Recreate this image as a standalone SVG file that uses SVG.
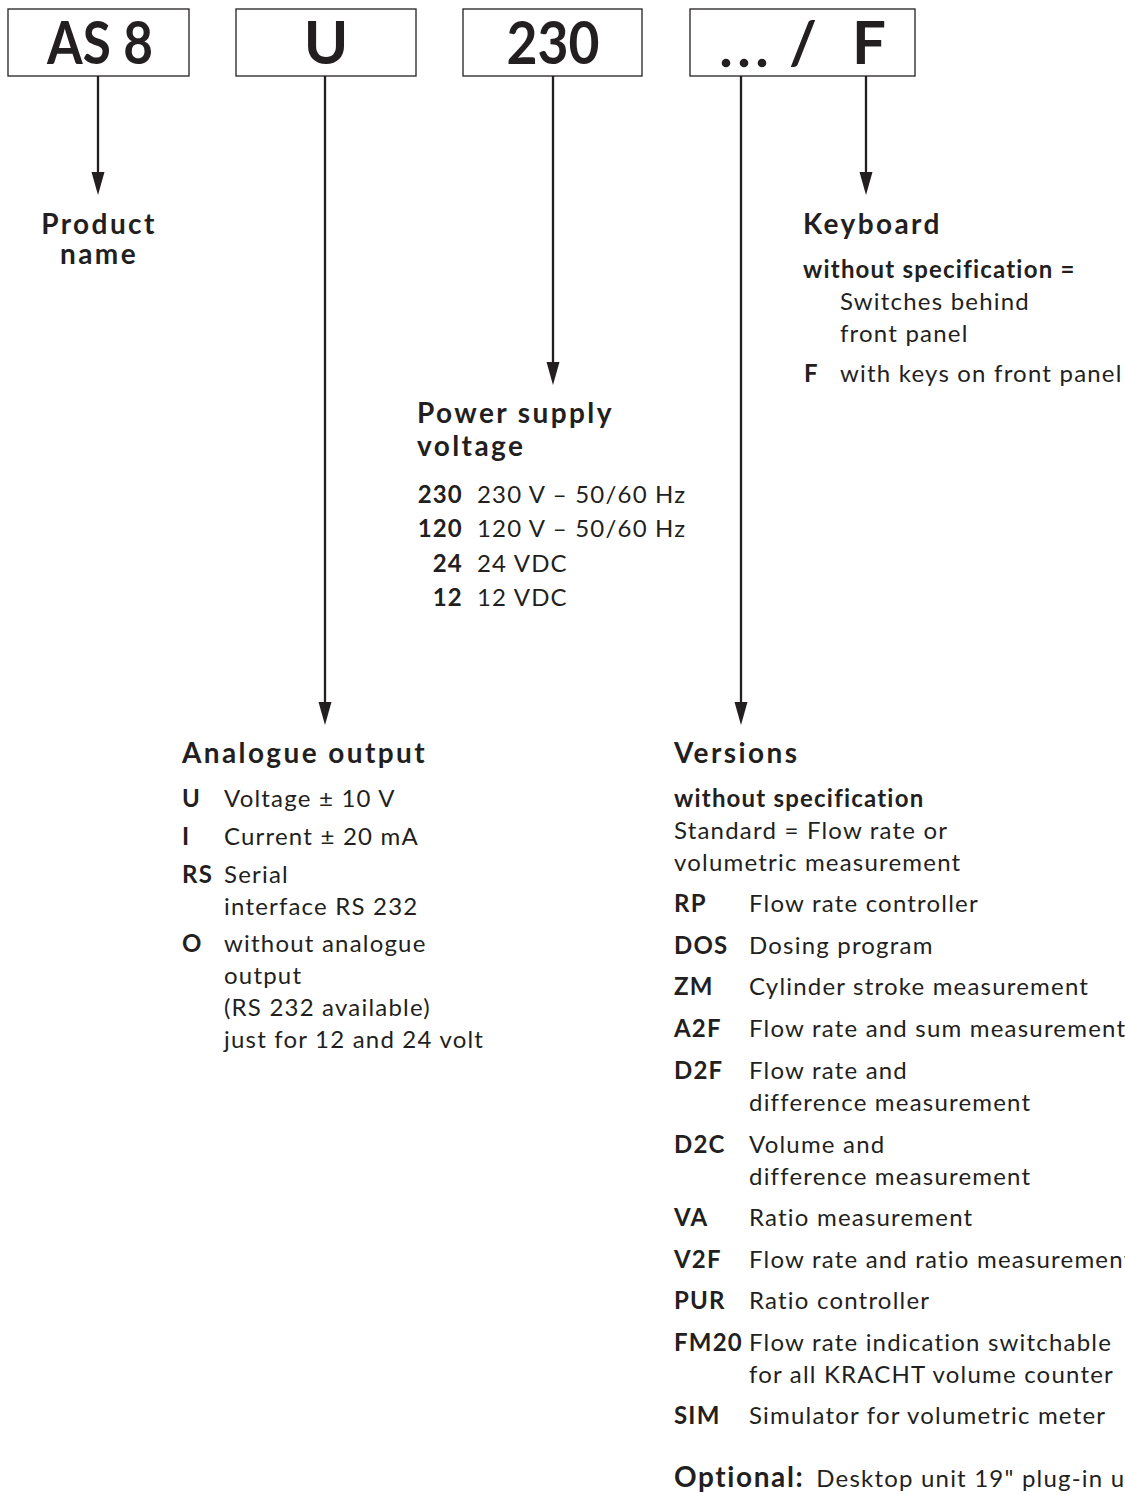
<svg xmlns="http://www.w3.org/2000/svg" width="1125" height="1495" viewBox="0 0 1125 1495">
<style>
text{font-family:Lato,"Noto Sans",sans-serif;fill:#231f20}
.box{fill:#fff;stroke:#231f20;stroke-width:1.3}
.code{font-size:60px;font-weight:700;text-anchor:middle}
.h{font-size:28px;font-weight:700;letter-spacing:2.4px}
.b{font-size:24px;font-weight:700;letter-spacing:1.2px}
.t{font-size:24px;font-weight:400;letter-spacing:1.2px}
.c{stroke:#231f20;stroke-width:2.3;fill:none}
.ah{fill:#231f20}
</style>
<g id="connectors">
<line class="c" x1="98" y1="76" x2="98" y2="176"/>
<path class="ah" d="M91.5,172 L104.5,172 L98,195 Z"/>
<line class="c" x1="325" y1="76" x2="325" y2="706"/>
<path class="ah" d="M318.5,702 L331.5,702 L325,725 Z"/>
<line class="c" x1="553" y1="76" x2="553" y2="366"/>
<path class="ah" d="M546.5,362 L559.5,362 L553,385 Z"/>
<line class="c" x1="741" y1="76" x2="741" y2="706"/>
<path class="ah" d="M734.5,702 L747.5,702 L741,725 Z"/>
<line class="c" x1="866" y1="76" x2="866" y2="176"/>
<path class="ah" d="M859.5,172 L872.5,172 L866,195 Z"/>
</g>
<g id="box-as8"><rect class="box" x="8" y="9" width="181" height="67"/><text class="code" x="100" y="64" textLength="106" lengthAdjust="spacingAndGlyphs">AS 8</text></g>
<g id="box-u"><rect class="box" x="236" y="9" width="180" height="67"/><text class="code" x="326" y="64">U</text></g>
<g id="box-230"><rect class="box" x="463" y="9" width="179" height="67"/><text class="code" x="553" y="64" textLength="93" lengthAdjust="spacingAndGlyphs">230</text></g>
<g id="box-f"><rect class="box" x="690" y="9" width="225" height="67"/>
<circle class="ah" cx="726" cy="63" r="4.3"/><circle class="ah" cx="744" cy="63" r="4.3"/><circle class="ah" cx="762" cy="63" r="4.3"/>
<text class="code" x="803" y="64">/</text><text class="code" x="869" y="64">F</text></g>
<g id="product-name">
<text class="h" x="99" y="234" text-anchor="middle">Product</text>
<text class="h" x="99" y="264" text-anchor="middle">name</text>
</g>
<g id="keyboard">
<text class="h" x="803" y="234">Keyboard</text>
<text class="b" x="803" y="278">without specification =</text>
<text class="t" x="840" y="310">Switches behind</text>
<text class="t" x="840" y="342">front panel</text>
<text class="b" x="804" y="382">F</text>
<text class="t" x="840" y="382">with keys on front panel</text>
</g>
<g id="power-supply">
<text class="h" x="417" y="423">Power supply</text>
<text class="h" x="417" y="456">voltage</text>
<text class="b" x="463" y="503" text-anchor="end">230</text><text class="t" x="477" y="503">230 V – 50/60 Hz</text>
<text class="b" x="463" y="537" text-anchor="end">120</text><text class="t" x="477" y="537">120 V – 50/60 Hz</text>
<text class="b" x="463" y="572" text-anchor="end">24</text><text class="t" x="477" y="572">24 VDC</text>
<text class="b" x="463" y="606" text-anchor="end">12</text><text class="t" x="477" y="606">12 VDC</text>
</g>
<g id="analogue-output">
<text class="h" x="182" y="763">Analogue output</text>
<text class="b" x="182" y="807">U</text><text class="t" x="224" y="807">Voltage ± 10 V</text>
<text class="b" x="182" y="845">I</text><text class="t" x="224" y="845">Current ± 20 mA</text>
<text class="b" x="182" y="883">RS</text><text class="t" x="224" y="883">Serial</text>
<text class="t" x="224" y="915">interface RS 232</text>
<text class="b" x="182" y="952">O</text><text class="t" x="224" y="952">without analogue</text>
<text class="t" x="224" y="984">output</text>
<text class="t" x="224" y="1016">(RS 232 available)</text>
<text class="t" x="224" y="1048">just for 12 and 24 volt</text>
</g>
<g id="versions">
<text class="h" x="674" y="763">Versions</text>
<text class="b" x="674" y="807">without specification</text>
<text class="t" x="674" y="839">Standard = Flow rate or</text>
<text class="t" x="674" y="871">volumetric measurement</text>
<text class="b" x="674" y="912">RP</text><text class="t" x="749" y="912">Flow rate controller</text>
<text class="b" x="674" y="954">DOS</text><text class="t" x="749" y="954">Dosing program</text>
<text class="b" x="674" y="995">ZM</text><text class="t" x="749" y="995">Cylinder stroke measurement</text>
<text class="b" x="674" y="1037">A2F</text><text class="t" x="749" y="1037">Flow rate and sum measurement</text>
<text class="b" x="674" y="1079">D2F</text><text class="t" x="749" y="1079">Flow rate and</text>
<text class="t" x="749" y="1111">difference measurement</text>
<text class="b" x="674" y="1153">D2C</text><text class="t" x="749" y="1153">Volume and</text>
<text class="t" x="749" y="1185">difference measurement</text>
<text class="b" x="674" y="1226">VA</text><text class="t" x="749" y="1226">Ratio measurement</text>
<text class="b" x="674" y="1268">V2F</text><text class="t" x="749" y="1268">Flow rate and ratio measurement</text>
<text class="b" x="674" y="1309">PUR</text><text class="t" x="749" y="1309">Ratio controller</text>
<text class="b" x="674" y="1351">FM20</text><text class="t" x="749" y="1351">Flow rate indication switchable</text>
<text class="t" x="749" y="1383">for all KRACHT volume counter</text>
<text class="b" x="674" y="1424">SIM</text><text class="t" x="749" y="1424">Simulator for volumetric meter</text>
<text x="674" y="1487"><tspan font-size="28" font-weight="700" letter-spacing="1.6">Optional:</tspan><tspan font-size="24" letter-spacing="1.2" dx="12">Desktop unit 19" plug-in unit</tspan></text>
</g>
</svg>
